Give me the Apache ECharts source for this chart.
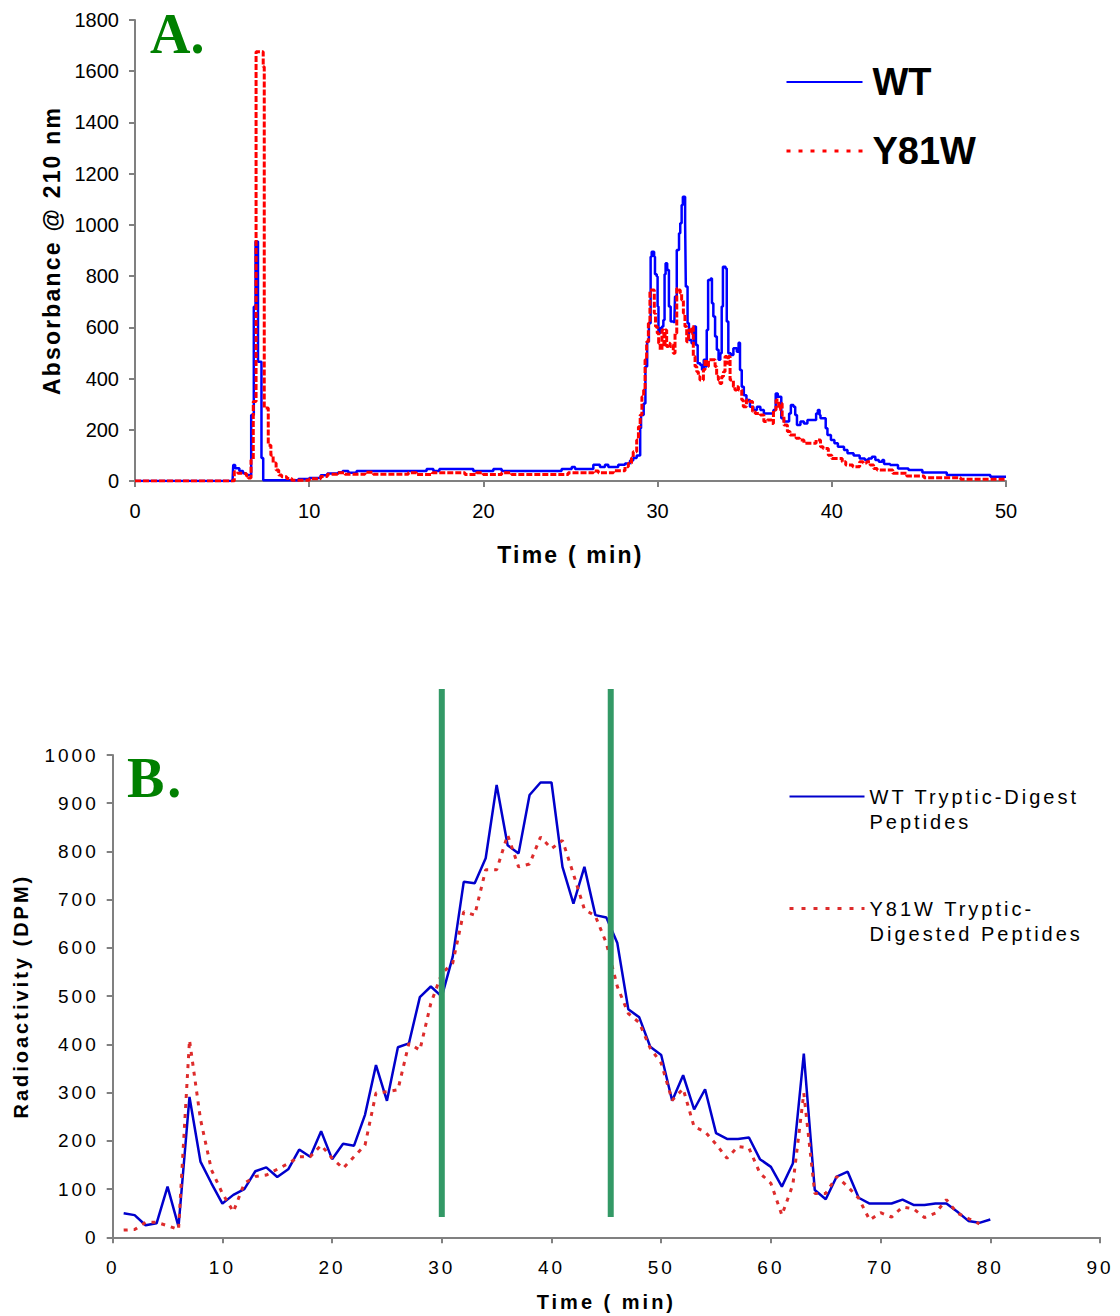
<!DOCTYPE html>
<html>
<head>
<meta charset="utf-8">
<title>HPLC traces</title>
<script src="https://cdn.jsdelivr.net/npm/echarts@6/dist/echarts.min.js"></script>
<style type="text/css">
  html, body { margin:0; padding:0; background:#fff; }
  #chartA { position:absolute; left:0; top:0; width:1120px; height:620px; }
  #chartB { position:absolute; left:0; top:620px; width:1120px; height:696px; letter-spacing:3px; }
  /* only the axis titles of A are spaced out (they are the 23px texts) */
  #chartA text[style*="23px"] { letter-spacing:2.2px; }
</style>
</head>
<body>
<div id="chartA"></div>
<div id="chartB"></div>

<script>
// ---- A. absorbance trace, [time (min), absorbance] ----
var wtA = [[0,0],[5.6,0],[5.64,62],[5.75,50],[5.99,39],[6.2,30],[6.37,23],[6.67,258],[6.82,680],[6.92,935],[7.06,466],[7.26,90],[7.36,3],
  [9.38,8],[10.0,12],[10.66,22],[11.04,29],[11.67,34],[11.92,39],[12.25,32],[12.72,39],[16.74,47],[17.13,39],[17.47,47],[19.42,39],
  [20.57,47],[21.05,39],[24.49,47],[25.07,55],[25.26,47],[26.31,63],[26.69,55],[26.98,63],[27.17,55],[27.74,63],[28.13,68],[28.42,80],
  [28.6,90],[28.8,100],[29.0,206],[29.05,258],[29.2,303],[29.3,447],[29.4,544],[29.5,616],[29.6,876],[29.66,895],[29.8,876],[29.85,807],
  [29.95,798],[30.0,681],[30.05,577],[30.15,596],[30.25,603],[30.33,629],[30.4,807],[30.46,850],[30.55,824],[30.65,681],[30.75,623],
  [30.96,616],[31.0,720],[31.1,902],[31.23,967],[31.3,1006],[31.38,1078],[31.45,1110],[31.58,1006],[31.62,759],[31.72,616],[31.8,551],
  [31.95,538],[32.1,603],[32.2,531],[32.3,460],[32.45,453],[32.55,434],[32.65,473],[32.75,447],[32.82,590],[32.9,785],[33.05,791],
  [33.12,694],[33.2,642],[33.3,564],[33.4,512],[33.5,473],[33.6,499],[33.68,681],[33.75,837],[33.9,830],[33.97,623],[34.06,499],
  [34.2,492],[34.35,518],[34.55,505],[34.65,540],[34.73,433],[34.83,368],[34.95,335],[35.1,316],[35.3,290],[35.5,277],[35.7,290],
  [35.9,277],[36.1,264],[36.65,277],[36.78,342],[36.9,329],[37.1,245],[37.25,232],[37.55,264],[37.65,297],[37.8,290],[37.9,258],
  [38.0,219],[38.2,232],[38.4,225],[38.6,238],[39.1,264],[39.2,277],[39.3,258],[39.35,245],[39.65,206],[39.75,180],[39.95,160],
  [40.15,147],[40.35,134],[40.7,121],[40.9,108],[41.25,100],[41.6,88],[41.9,82],[42.1,88],[42.3,95],[42.5,82],[42.7,75],[42.9,82],
  [43.0,66],[43.35,62],[43.8,49],[44.4,43],[45.2,33],[46.6,23],[49.1,17],[50,17]];

var y81wA = [[0,0],[5.65,0],[5.7,36],[5.9,30],[6.2,28],[6.4,20],[6.5,12],[6.66,82],[6.79,310],[6.95,1676],[7.36,1617],[7.42,285],
  [7.65,140],[7.8,101],[7.93,70],[8.1,43],[8.25,23],[8.42,17],[8.71,10],[9.0,3],[10.01,9],[10.66,18],[11.04,26],[11.62,32],[12.05,26],
  [13.2,34],[13.68,26],[15.69,32],[16.16,25],[17.08,32],[18.94,25],[19.61,32],[19.99,25],[21.05,32],[21.62,25],[24.87,32],[26.31,39],
  [26.6,32],[27.46,40],[28.13,56],[28.32,69],[28.5,90],[28.6,114],[28.8,160],[28.9,212],[29.0,258],[29.1,329],[29.2,355],[29.28,473],
  [29.37,544],[29.47,616],[29.56,746],[29.81,655],[29.88,603],[29.98,577],[30.06,538],[30.15,512],[30.25,590],[30.36,525],[30.43,590],
  [30.52,525],[30.62,538],[30.72,525],[30.81,530],[30.9,499],[31.0,577],[31.1,752],[31.2,746],[31.3,733],[31.38,707],[31.48,655],
  [31.57,603],[31.67,544],[31.77,590],[31.86,577],[31.96,603],[32.05,486],[32.15,447],[32.25,427],[32.34,408],[32.43,394],[32.63,434],
  [32.72,473],[32.82,447],[32.92,473],[33.3,447],[33.39,408],[33.49,394],[33.58,381],[33.68,408],[33.78,427],[33.87,486],[33.97,460],
  [34.06,486],[34.16,394],[34.35,368],[34.44,355],[34.54,368],[34.64,355],[34.83,316],[34.92,290],[35.1,316],[35.25,310],[35.45,271],
  [35.6,264],[35.9,258],[36.1,232],[36.3,238],[36.55,225],[36.65,277],[36.8,316],[36.95,280],[37.05,303],[37.15,251],[37.25,219],
  [37.45,193],[37.6,180],[37.95,167],[38.15,160],[38.4,147],[39.1,160],[39.35,134],[39.5,127],[39.8,101],[40.0,88],[40.6,75],
  [40.8,62],[41.2,56],[41.6,75],[41.8,70],[42.0,75],[42.2,62],[42.4,49],[42.6,43],[43.5,30],[44.3,20],[45.3,13],[47.4,7],[50,5]];

// ---- B. radioactivity per fraction ----
var timeB = [];
for (var i = 1; i <= 80; i++) timeB.push(i);

var wtB = [50,46,25,29,105,22,291,157,112,70, 88,100,137,145,125,141,182,167,220,162,
  194,190,254,357,283,394,402,498,520,499, 582,737,734,786,938,813,796,917,943,943,
  768,692,768,668,663,610,473,456,395,378, 283,336,265,307,216,204,204,207,162,146,
  105,153,381,98,79,126,136,82,70,70, 70,78,67,67,70,70,53,34,30,37];

var y81wB = [15,16,31,31,24,16,409,245,140,91, 53,112,126,129,141,153,167,167,191,164,
  143,167,191,299,302,306,402,388,485,547, 569,675,668,762,762,834,768,774,830,806,
  823,753,680,666,610,520,464,445,392,361, 284,308,229,219,193,164,188,185,133,112,
  46,109,299,91,91,126,105,81,36,51, 42,63,59,41,50,78,50,39,28];

// fraction window marked by the two green bars
var windowB = [30, 45.4];
var barSpanB = [42, 1137];

var namesA = ['WT', 'Y81W'];
var namesB = ['WT Tryptic-Digest\nPeptides', 'Y81W Tryptic-\nDigested Peptides'];

var sans = '"Liberation Sans", Arial, Helvetica, sans-serif';

function pairs(xs, ys) {
  var out = [];
  for (var k = 0; k < ys.length; k++) out.push([xs[k], ys[k]]);
  return out;
}

function plain(v) { return String(v); }

function axisStyle(o) {
  o.axisLine = {show:true, lineStyle:{color:'#808080', width:2}};
  o.axisTick = {show:true, length:6, inside:false, lineStyle:{color:'#808080', width:2}};
  o.splitLine = {show:false};
  o.axisLabel.formatter = plain;
  return o;
}

// ---------- chart A ----------
var chartA = echarts.init(document.getElementById('chartA'), null, {renderer:'svg'});
chartA.setOption({
  animation:false,
  textStyle:{fontFamily:sans, color:'#000'},
  grid:{left:135, top:20, width:871, height:461, outerBoundsMode:'none'},
  xAxis:axisStyle({type:'value', min:0, max:50, interval:10,
    name:'Time ( min)', nameLocation:'middle', nameGap:62,
    nameTextStyle:{fontSize:23, fontWeight:'bold', color:'#000', fontFamily:sans},
    axisLabel:{fontSize:20, color:'#000', margin:20, fontFamily:sans}}),
  yAxis:axisStyle({type:'value', min:0, max:1800, interval:200,
    name:'Absorbance @ 210 nm', nameLocation:'middle', nameGap:72,
    nameTextStyle:{fontSize:23, fontWeight:'bold', color:'#000', fontFamily:sans},
    axisLabel:{fontSize:20, color:'#000', margin:16, fontFamily:sans}}),
  legend:{orient:'vertical', left:780, top:57, itemWidth:76, itemHeight:14, itemGap:29,
    itemStyle:{opacity:0},
    textStyle:{fontSize:38, fontWeight:'bold', color:'#000', lineHeight:40, fontFamily:sans, padding:[0,0,0,5]},
    data:[{name:namesA[0]},
          {name:namesA[1], lineStyle:{color:'#ff0000', width:3, type:[4,8]}}]},
  graphic:[{type:'text', left:150, top:6,
    style:{text:'A.', font:'bold 56px "Liberation Serif", "Times New Roman", serif', fill:'#008000'}}],
  series:[
    {name:namesA[0], type:'line', step:'end', data:wtA, symbol:'none', showSymbol:false,
      lineStyle:{color:'#0000ff', width:2.5}, itemStyle:{color:'#0000ff'}, z:3},
    {name:namesA[1], type:'line', step:'end', data:y81wA, symbol:'none', showSymbol:false,
      lineStyle:{color:'#ff0000', width:3, type:[6,2]}, itemStyle:{color:'#ff0000'}, z:4}
  ]
});

// ---------- chart B ----------
var chartB = echarts.init(document.getElementById('chartB'), null, {renderer:'svg'});
chartB.setOption({
  animation:false,
  textStyle:{fontFamily:sans, color:'#000'},
  grid:{left:112.7, top:135, width:987.3, height:482.3, outerBoundsMode:'none'},
  xAxis:axisStyle({type:'value', min:0, max:90, interval:10,
    name:'Time ( min)', nameLocation:'middle', nameGap:55,
    nameTextStyle:{fontSize:20, fontWeight:'bold', color:'#000', fontFamily:sans},
    axisLabel:{fontSize:19, color:'#000', margin:21, fontFamily:sans}}),
  yAxis:axisStyle({type:'value', min:0, max:1000, interval:100,
    name:'Radioactivity (DPM)', nameLocation:'middle', nameGap:82,
    nameTextStyle:{fontSize:20, fontWeight:'bold', color:'#000', fontFamily:sans},
    axisLabel:{fontSize:19, color:'#000', margin:14, fontFamily:sans}}),
  // a blank first line keeps the key level with the first line of each name
  legend:{orient:'vertical', left:783, top:134, itemWidth:75, itemHeight:10, itemGap:37,
    itemStyle:{opacity:0},
    formatter:function (name) { return '\n' + name; },
    textStyle:{fontSize:20, color:'#000', lineHeight:25, fontFamily:sans},
    data:[{name:namesB[0]},
          {name:namesB[1], lineStyle:{color:'#dd2c2c', width:3, type:[4,8]}}]},
  graphic:[{type:'text', left:127, top:130,
    style:{text:'B.', font:'bold 56px "Liberation Serif", "Times New Roman", serif', fill:'#008000'}}],
  series:[
    {name:namesB[0], type:'line', data:pairs(timeB, wtB), symbol:'none', showSymbol:false,
      lineStyle:{color:'#0000cc', width:2.5}, itemStyle:{color:'#0000cc'}, z:3},
    {name:namesB[1], type:'line', data:pairs(timeB, y81wB), symbol:'none', showSymbol:false,
      lineStyle:{color:'#dd2c2c', width:3, type:[4,6]}, itemStyle:{color:'#dd2c2c'}, z:4},
    {name:'window start', type:'line', clip:false, symbol:'none', silent:true,
      data:[[windowB[0], barSpanB[0]], [windowB[0], barSpanB[1]]],
      lineStyle:{color:'#339966', width:6}, z:5},
    {name:'window end', type:'line', clip:false, symbol:'none', silent:true,
      data:[[windowB[1], barSpanB[0]], [windowB[1], barSpanB[1]]],
      lineStyle:{color:'#339966', width:6}, z:5}
  ]
});
</script>
</body>
</html>
